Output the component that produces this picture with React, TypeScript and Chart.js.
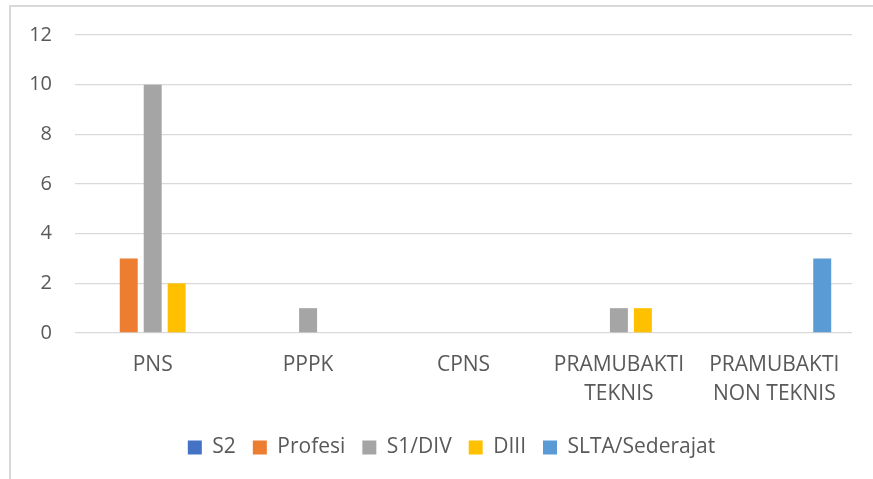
import React, { useEffect, useRef } from "react";
import { Chart, registerables } from "chart.js";

Chart.register(...registerables);

const categories: string[][] = [
  ["PNS"],
  ["PPPK"],
  ["CPNS"],
  ["PRAMUBAKTI", "TEKNIS"],
  ["PRAMUBAKTI", "NON TEKNIS"],
];
const seriesNames = ["S2", "Profesi", "S1/DIV", "DIII", "SLTA/Sederajat"];
const s2Values = [0, 0, 0, 0, 0];
const profesiValues = [3, 0, 0, 0, 0];
const s1Values = [10, 1, 0, 1, 0];
const diiiValues = [2, 0, 0, 1, 0];
const sltaValues = [0, 0, 0, 0, 3];
const seriesColors = ["#4472C4", "#ED7D31", "#A5A5A5", "#FFC000", "#5B9BD5"];
const yTicks = [0, 2, 4, 6, 8, 10, 12];

const FONT = "'Open Sans', Lato, sans-serif";

const shiftLegend = {
  id: "shiftLegend",
  afterLayout(chart: any) {
    const l = chart.legend;
    if (l) {
      l.left += 12;
      l.right += 12;
    }
  },
};

export default function App() {
  const ref = useRef<HTMLCanvasElement | null>(null);

  useEffect(() => {
    if (!ref.current) return;
    const values = [s2Values, profesiValues, s1Values, diiiValues, sltaValues];
    const chart = new Chart(ref.current, {
      type: "bar",
      data: {
        labels: categories,
        datasets: seriesNames.map((name, i) => ({
          label: name,
          data: values[i],
          backgroundColor: seriesColors[i],
          borderWidth: 0,
          categoryPercentage: 0.771,
          barPercentage: 0.75,
        })),
      },
      plugins: [shiftLegend],
      options: {
        animation: false,
        responsive: false,
        maintainAspectRatio: false,
        layout: { padding: { left: 27, right: 21, top: 29, bottom: 11 } },
        plugins: {
          tooltip: { enabled: false },
          legend: {
            position: "bottom",
            labels: {
              boxWidth: 14,
              boxHeight: 14,
              padding: 17,
              color: "#595959",
              font: { family: FONT, size: 21 },
            },
          },
        },
        scales: {
          x: {
            grid: { display: false, drawTicks: false },
            border: { display: false },
            ticks: {
              color: "#595959",
              padding: 17,
              maxRotation: 0,
              autoSkip: false,
              font: { family: FONT, size: 21, lineHeight: 1.4 },
            },
            afterFit: (scale: any) => {
              scale.height = 87;
            },
          },
          y: {
            min: 0,
            max: 12,
            afterBuildTicks: (scale: any) => {
              scale.ticks = yTicks.map((v) => ({ value: v }));
            },
            grid: { color: "#D9D9D9", lineWidth: 1.3, drawTicks: false },
            border: { display: false },
            ticks: {
              color: "#595959",
              padding: 23,
              font: { family: FONT, size: 20 },
            },
            afterFit: (scale: any) => {
              scale.width = 48;
            },
          },
        },
      },
    });
    return () => chart.destroy();
  }, []);

  return (
    <div
      style={{
        position: "fixed",
        left: 0,
        top: 0,
        width: 873,
        height: 479,
        overflow: "hidden",
        background: "#fff",
      }}
    >
      <div
        style={{
          position: "absolute",
          left: 9,
          top: 5,
          width: 900,
          height: 500,
          border: "2px solid #D9D9D9",
          boxSizing: "border-box",
        }}
      />
      <canvas
        ref={ref}
        width={873}
        height={479}
        style={{ position: "absolute", left: 0, top: 0, width: 873, height: 479 }}
      />
    </div>
  );
}
